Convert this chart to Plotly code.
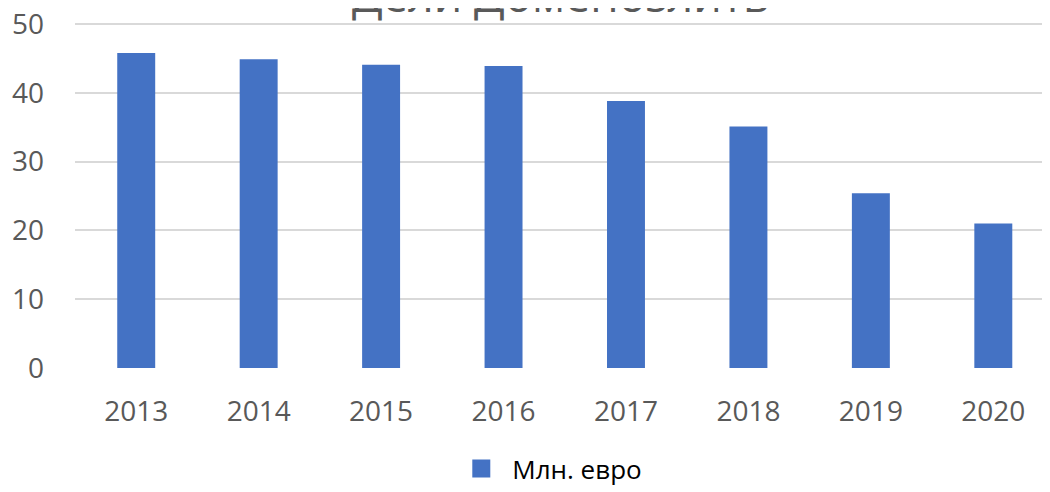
import plotly.graph_objects as go

years = ["2013", "2014", "2015", "2016", "2017", "2018", "2019", "2020"]
values = [45.8, 44.9, 44.1, 43.9, 38.8, 35.1, 25.4, 21.0]
series_name = "Млн. евро"
title_text = "Дели Доменозлить"
y_ticks = [0, 10, 20, 30, 40, 50]

# page has an 8px body margin; figure sized to fit the 1050x492 window
W, H = 1042, 484
y_top = 50.3                      # small headroom so the 50 gridline is drawn
px_per_unit = (367.7 - 24.0) / 50
mt = (24.0 - 8) - (y_top - 50) * px_per_unit
mb = H - (367.7 - 8)
ml, mr = 67, 0
bar_color = "#4472C4"
plot_h = H - mt - mb

fig = go.Figure()
fig.add_trace(go.Bar(
    x=list(range(len(years))), y=values, name=series_name,
    marker=dict(color=bar_color, line=dict(width=0)),
    width=0.31, showlegend=False,
))
# legend entry with a larger square swatch
fig.add_trace(go.Scatter(
    x=[None], y=[None], mode="markers", name=series_name,
    marker=dict(symbol="square", size=16, color=bar_color,
                line=dict(width=2, color=bar_color)),
    showlegend=True,
))

fig.update_layout(
    width=W, height=H,
    margin=dict(l=ml, r=mr, t=mt, b=mb, pad=0),
    paper_bgcolor="white", plot_bgcolor="white",
    font=dict(family="Open Sans", color="#595959", size=28),
    xaxis=dict(
        range=[-0.5, 7.463], tickmode="array",
        tickvals=list(range(len(years))), ticktext=years,
        showgrid=False, zeroline=False, showline=False, ticks="",
        ticklabelstandoff=24, automargin=False,
        ticklabeloverflow="allow",
        tickfont=dict(size=28, color="#595959"),
    ),
    yaxis=dict(
        range=[0, y_top], tickmode="array", tickvals=y_ticks,
        showgrid=True, gridcolor="#D9D9D9", gridwidth=2,
        zeroline=False, showline=False, ticks="",
        ticklabelstandoff=30, automargin=False,
        ticklabeloverflow="allow",
        tickfont=dict(size=28, color="#595959"),
    ),
    legend=dict(
        orientation="h", x=0.519, xanchor="center", xref="container",
        y=-0.006, yanchor="bottom", yref="container",
        font=dict(size=26, color="#000000"),
        itemsizing="trace", itemwidth=52,
    ),
    showlegend=True,
)

fig.add_annotation(
    text=title_text, xref="paper", yref="paper",
    x=(553 - ml) / (W - ml - mr), y=1 - 5 / plot_h,
    xanchor="center", yanchor="bottom", showarrow=False,
    font=dict(size=45, color="#595959", family="Open Sans"),
)

fig.write_html("out.html")
